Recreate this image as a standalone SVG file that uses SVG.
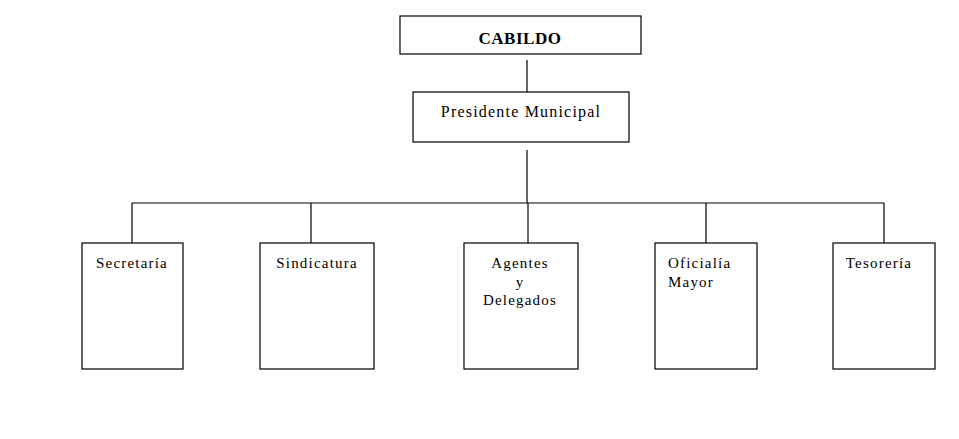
<svg xmlns="http://www.w3.org/2000/svg" width="959" height="439" viewBox="0 0 959 439">
<style>
.box{fill:#fff;stroke:#000;stroke-width:1.2}
.ln{stroke:#000;stroke-width:1.2;fill:none}
.t{font-family:"Liberation Serif","Times New Roman",serif;font-size:15px;fill:#000;letter-spacing:1.2px}
.b{font-weight:bold;font-size:17px;letter-spacing:0.5px}
.m{text-anchor:middle}
</style>
<rect width="959" height="439" fill="#fff"/>
<g id="connectors">
<line class="ln" x1="527" y1="60" x2="527" y2="92"/>
<line class="ln" x1="527" y1="150" x2="527" y2="203"/>
<line class="ln" x1="132" y1="203" x2="884" y2="203"/>
<line class="ln" x1="132" y1="203" x2="132" y2="243"/>
<line class="ln" x1="311" y1="203" x2="311" y2="243"/>
<line class="ln" x1="528" y1="203" x2="528" y2="243"/>
<line class="ln" x1="706" y1="203" x2="706" y2="243"/>
<line class="ln" x1="884" y1="203" x2="884" y2="243"/>
</g>
<g id="cabildo"><rect class="box" x="400" y="16" width="241" height="38"/><text class="t b m" x="520" y="44">CABILDO</text></g>
<g id="presidente"><rect class="box" x="413" y="92" width="216" height="50"/><text class="t m" x="521" y="117" style="font-size:16px">Presidente Municipal</text></g>
<g id="secretaria"><rect class="box" x="82" y="243" width="101" height="126"/><text class="t m" x="132" y="268">Secretaría</text></g>
<g id="sindicatura"><rect class="box" x="260" y="243" width="114" height="126"/><text class="t m" x="317" y="268">Sindicatura</text></g>
<g id="agentes"><rect class="box" x="464" y="243" width="114" height="126"/><text class="t m" x="520" y="268">Agentes</text><text class="t m" x="520" y="287">y</text><text class="t m" x="520" y="305">Delegados</text></g>
<g id="oficialia"><rect class="box" x="655" y="243" width="102" height="126"/><text class="t" x="668" y="268">Oficialía</text><text class="t" x="668" y="287">Mayor</text></g>
<g id="tesoreria"><rect class="box" x="833" y="243" width="102" height="126"/><text class="t m" x="879" y="268">Tesorería</text></g>
</svg>
